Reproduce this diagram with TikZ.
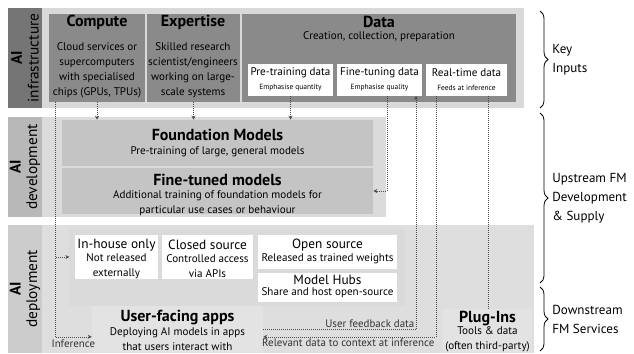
\documentclass[tikz,border=0pt]{standalone}
\usepackage{fontspec}
\setmainfont{PT Sans}
\usetikzlibrary{positioning,fit,arrows.meta,decorations.pathreplacing}
\definecolor{infralabel}{gray}{0.46}
\definecolor{infrabox}{gray}{0.54}
\definecolor{infraband}{gray}{0.85}
\definecolor{devlabel}{gray}{0.72}
\definecolor{devbox}{gray}{0.77}
\definecolor{devband}{gray}{0.86}
\definecolor{deplabel}{gray}{0.80}
\definecolor{depband}{gray}{0.87}
\definecolor{depinner}{gray}{0.855}
\definecolor{appbox}{gray}{0.89}
\definecolor{connline}{gray}{0.30}
\begin{document}
\begin{tikzpicture}[x=0.75pt,y=-0.75pt,
  area/.style={fit={#1},inner sep=0pt,draw=none},
  title/.style={font=\fontsize{12}{13}\selectfont\bfseries},
  body/.style={font=\fontsize{8.3}{11.25}\selectfont,align=center,inner sep=0pt},
  wtitle/.style={font=\fontsize{10}{11}\selectfont,inner sep=0pt},
  small/.style={font=\fontsize{5.6}{7}\selectfont,inner sep=0pt},
  side/.style={font=\fontsize{9.8}{14.2}\selectfont,align=left,anchor=west,inner sep=0pt},
  layer/.style={rotate=90,align=center,font=\fontsize{11.5}{12.5}\selectfont,inner sep=0pt},
  conn/.style={connline,densely dotted,line width=0.5pt,-{Stealth[length=3pt,width=3pt]}},
  lbl/.style={font=\fontsize{8.2}{9}\selectfont,inner sep=1pt,text=black!80}
]
\useasboundingbox (0,0) rectangle (634,353);

\node[area={(8,8)(524,108)},fill=infraband] (infraband) {};
\node[area={(8,8)(42,108)},fill=infralabel] (infralabel) {};
\node[layer] at (infralabel.center) {\textbf{AI}\\infrastructure};
\node[area={(49,14)(145,102)},fill=infrabox] (compute) {};
\node[area={(147,14)(240,102)},fill=infrabox] (expertise) {};
\node[area={(242,14)(516,102)},fill=infrabox] (data) {};
\node[title] at (97,22) {Compute};
\node[body] at (97,70) {Cloud services or\\supercomputers\\with specialised\\chips (GPUs, TPUs)};
\node[title] at (193,22) {Expertise};
\node[body] at (193,70) {Skilled research\\scientist/engineers\\working on large-\\scale systems};
\node[title] at (379,22) {Data};
\node[body] at (379,37) {Creation, collection, preparation};
\node[area={(248,64)(333,96)},fill=white] (pretrain) {};
\node[area={(337,64)(422,96)},fill=white] (finetune) {};
\node[area={(426,64)(507,96)},fill=white] (realtime) {};
\node[body] at (290.5,73) {Pre-training data};
\node[small] at (290.5,88) {Emphasise quantity};
\node[body] at (379.5,73) {Fine-tuning data};
\node[small] at (379.5,88) {Emphasise quality};
\node[body] at (466.5,73) {Real-time data};
\node[small] at (466.5,88) {Feeds at inference};

\node[area={(8,117)(386,217)},fill=devband] (devband) {};
\node[area={(8,117)(42,217)},fill=devlabel] (devlabel) {};
\node[layer] at (devlabel.center) {\textbf{AI}\\development};
\node[area={(62,120)(373,166)},fill=devbox] (foundation) {};
\node[area={(62,168)(373,214)},fill=devbox] (finetuned) {};
\node[title] at (217.5,135) {Foundation Models};
\node[body] at (217.5,152) {Pre-training of large, general models};
\node[title] at (217.5,180) {Fine-tuned models};
\node[body] at (217.5,203) {Additional training of foundation models for\\particular use cases or behaviour};

\node[area={(8,225)(534,353)},fill=depband] (depband) {};
\node[area={(8,225)(42,353)},fill=deplabel] (deplabel) {};
\node[layer] at (deplabel.center) {\textbf{AI}\\deployment};
\node[area={(69,229)(405,306)},fill=depinner] (release) {};
\node[area={(92,306)(263,353)},fill=appbox] (apps) {};
\node[area={(443,309)(532,353)},fill=appbox] (plugins) {};
\node[area={(75,235)(158,279)},fill=white] (inhouse) {};
\node[area={(162,235)(253,279)},fill=white] (closed) {};
\node[area={(258,235)(397,269)},fill=white] (open) {};
\node[area={(258,273)(397,302)},fill=white] (hubs) {};
\node[wtitle] at (116.5,245) {In-house only};
\node[body] at (116.5,266) {Not released\\externally};
\node[wtitle] at (207.5,245) {Closed source};
\node[body] at (207.5,266) {Controlled access\\via APIs};
\node[wtitle] at (327.5,245) {Open source};
\node[body] at (327.5,259) {Released as trained weights};
\node[wtitle] at (327.5,280) {Model Hubs};
\node[body] at (327.5,293) {Share and host open-source};
\node[title] at (177.5,318) {User-facing apps};
\node[body] at (177.5,339) {Deploying AI models in apps\\that users interact with};
\node[title] at (487.5,319) {Plug-Ins};
\node[body] at (487.5,339) {Tools \& data\\(often third-party)};

\coordinate (infout) at (55,102);
\coordinate (ftout) at (387,96);
\coordinate (fbin) at (416,96);
\coordinate (rtout) at (436,96);
\coordinate (pgout) at (488,96);

\draw[conn] (compute.south) -- (compute.south |- foundation.north);
\draw[conn] (expertise.south) -- (expertise.south |- foundation.north);
\draw[conn] (pretrain.south) -- (pretrain.south |- foundation.north);
\draw[conn] (ftout) |- (finetuned.east);
\draw[conn] (apps.east) -| (fbin) node[lbl,pos=0.5,anchor=south east] {User feedback data};
\draw[conn] (rtout) |- ([yshift=-5.5pt]apps.east) node[lbl,pos=0.5,anchor=north east] {Relevant data to context at inference};
\draw[conn,-] (pgout) -- (pgout |- plugins.north);
\draw[conn,shorten >=4pt] (infout) |- (inhouse.west);
\draw[conn] (infout) |- ([yshift=-5.5pt]apps.west) node[lbl,pos=0.75,below=1pt] {Inference};

\draw[decorate,decoration={brace,amplitude=6pt},line width=0.6pt] (540,11) -- (540,108) node[side,midway,xshift=9pt] {Key\\Inputs};
\draw[decorate,decoration={brace,amplitude=6pt},line width=0.6pt] (540,113) -- (540,283) node[side,midway,xshift=9pt] {Upstream FM\\Development\\\& Supply};
\draw[decorate,decoration={brace,amplitude=6pt},line width=0.6pt] (540,287) -- (540,351) node[side,midway,xshift=9pt] {Downstream\\FM Services};
\end{tikzpicture}
\end{document}
